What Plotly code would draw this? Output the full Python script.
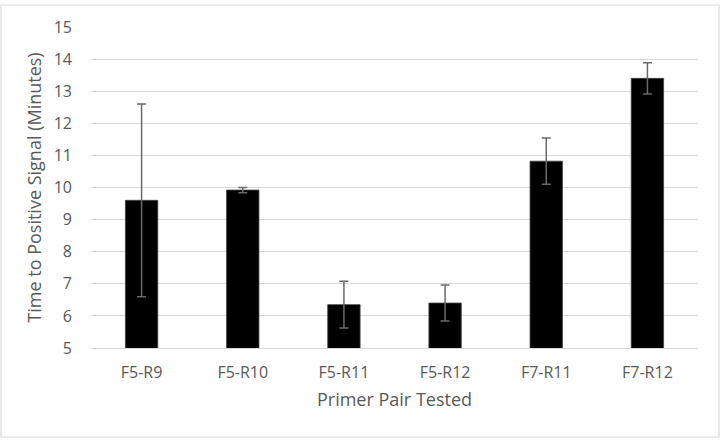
import plotly.graph_objects as go

categories = ["F5-R9", "F5-R10", "F5-R11", "F5-R12", "F7-R11", "F7-R12"]
values = [9.6, 9.92, 6.35, 6.4, 10.82, 13.4]
errors = [3.0, 0.08, 0.73, 0.56, 0.72, 0.49]
y_ticks = list(range(5, 16))

W, H = 724, 446
L, R, T, B = 91, 26, 27, 98
pw, ph = W - L - R, H - T - B

font_family = "Open Sans, sans-serif"
text_color = "#595959"

fig = go.Figure()
fig.add_trace(go.Bar(
    x=categories, y=values,
    marker=dict(color="#000000", line=dict(color="#404040", width=0.8)),
    error_y=dict(type="data", array=errors, visible=True,
                 color="#6a6a6a", thickness=1.5, width=4.5),
))

# chart border in pixel terms converted to paper coordinates
bx0, by0, bx1, by1 = 1, 5, 719, 437
fig.add_shape(type="rect", xref="paper", yref="paper",
              x0=(bx0 - L) / pw, x1=(bx1 - L) / pw,
              y0=(H - B - by1) / ph, y1=(H - B - by0) / ph,
              line=dict(color="#d9d9d9", width=1.2), layer="below")

fig.update_layout(
    width=W, height=H,
    margin=dict(l=L, r=R, t=T, b=B),
    paper_bgcolor="white", plot_bgcolor="white",
    bargap=0.68,
    showlegend=False,
    font=dict(family=font_family, color=text_color),
    xaxis=dict(
        showgrid=False, showline=True, linecolor="#d9d9d9", linewidth=1,
        ticks="", ticklabelstandoff=10, tickfont=dict(size=16, color=text_color),
        title=dict(text="Primer Pair Tested", font=dict(size=18, color=text_color), standoff=11),
    ),
    yaxis=dict(
        range=[5, 15], tickvals=y_ticks, showgrid=True, gridcolor="#d9d9d9", gridwidth=1,
        zeroline=False, showline=False, ticks="", ticklabelstandoff=18,
        tickfont=dict(size=16, color=text_color),
        title=dict(text="Time to Positive Signal (Minutes)", font=dict(size=18, color=text_color), standoff=7),
    ),
)

fig.write_html("out.html")
